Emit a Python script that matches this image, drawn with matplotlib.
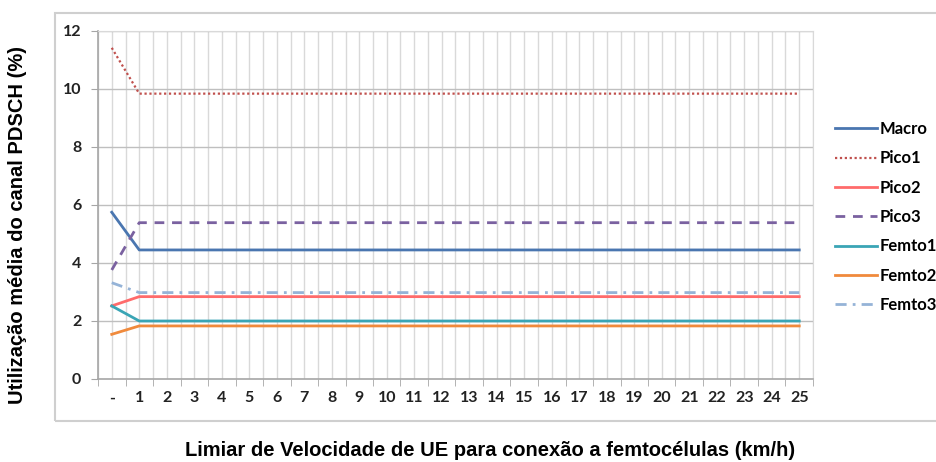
import matplotlib.pyplot as plt
import matplotlib.patches as patches
import numpy as np

categories = ["-"] + [str(i) for i in range(1, 26)]
n_after = len(categories) - 1

macro = [5.75] + [4.45] * n_after
pico1 = [11.42] + [9.84] * n_after
pico2 = [2.52] + [2.84] * n_after
pico3 = [3.76] + [5.39] * n_after
femto1 = [2.52] + [2.0] * n_after
femto2 = [1.54] + [1.83] * n_after
femto3 = [3.32] + [2.98] * n_after

series = [
    ("Macro", macro, "#4A76B0", "-", 2.0),
    ("Pico1", pico1, "#C0504D", (0, (1, 1.2)), 1.6),
    ("Pico2", pico2, "#FF6B6B", "-", 2.0),
    ("Pico3", pico3, "#7A61A0", (0, (3.5, 2.8)), 2.0),
    ("Femto1", femto1, "#3AA5B5", "-", 2.0),
    ("Femto2", femto2, "#F08A3C", "-", 2.0),
    ("Femto3", femto3, "#95B3D7", (0, (4, 2.2, 1, 2.2)), 2.0),
]

fig = plt.figure(figsize=(9.36, 4.62), dpi=100)
fig.patch.set_facecolor("white")

# outer chart border
fig.patches.append(patches.Rectangle((55 / 936, 1 - 421 / 462), 900 / 936, 408 / 462,
                                     transform=fig.transFigure, fill=False,
                                     edgecolor="#cfcfcf", linewidth=1.5))

ax = fig.add_axes([98 / 936, 1 - 379 / 462, 715 / 936, 348 / 462])
x = np.arange(len(categories))

for name, vals, col, ls, lw in series:
    ax.plot(x, vals, color=col, linestyle=ls, linewidth=lw, label=name)

ax.set_xlim(-0.5, len(categories) - 0.5)
ax.set_ylim(0, 12)
ax.set_yticks(np.arange(0, 13, 2))
ax.set_xticks(x)
ax.set_xticklabels(categories)
ax.set_xticks(np.arange(-0.5, len(categories), 1), minor=True)

for xv in np.arange(-0.5, len(categories), 0.5):
    ax.axvline(xv, color="#d9d9d9", linewidth=1, zorder=0)
for yv in np.arange(2, 13, 2):
    ax.axhline(yv, color="#bfbfbf", linewidth=1, zorder=0)

for s in ["top", "right"]:
    ax.spines[s].set_color("#d9d9d9")
for s in ["left", "bottom"]:
    ax.spines[s].set_color("#a6a6a6")
    ax.spines[s].set_linewidth(1.2)

ax.tick_params(axis="x", which="major", length=0, pad=9)
ax.tick_params(axis="x", which="minor", length=5, color="#a6a6a6", direction="out")
ax.tick_params(axis="y", length=5, color="#a6a6a6", direction="out", pad=7)

for lab in ax.get_xticklabels() + ax.get_yticklabels():
    lab.set_fontfamily("Lato")
    lab.set_fontweight("bold")
    lab.set_fontsize(11.5)
    lab.set_color("#222222")

fig.text(18 / 936, 1 - 225 / 462, "Utilização média do canal PDSCH (%)", rotation=90,
         ha="center", va="center", fontsize=14.5, fontweight="bold", family="Liberation Sans")
fig.text(490 / 936, 1 - 450 / 462, "Limiar de Velocidade de UE para conexão a femtocélulas (km/h)",
         ha="center", va="center", fontsize=14.5, fontweight="bold", family="Liberation Sans")

leg = ax.legend(loc="center left", bbox_to_anchor=(835 / 936, 1 - 217 / 462),
                bbox_transform=fig.transFigure, frameon=False, borderpad=0,
                borderaxespad=0, handlelength=2.5, handletextpad=0.2,
                labelspacing=0.8, prop={"family": "Lato", "weight": "bold", "size": 12})

plt.savefig("out.png", dpi=100, facecolor="white")
